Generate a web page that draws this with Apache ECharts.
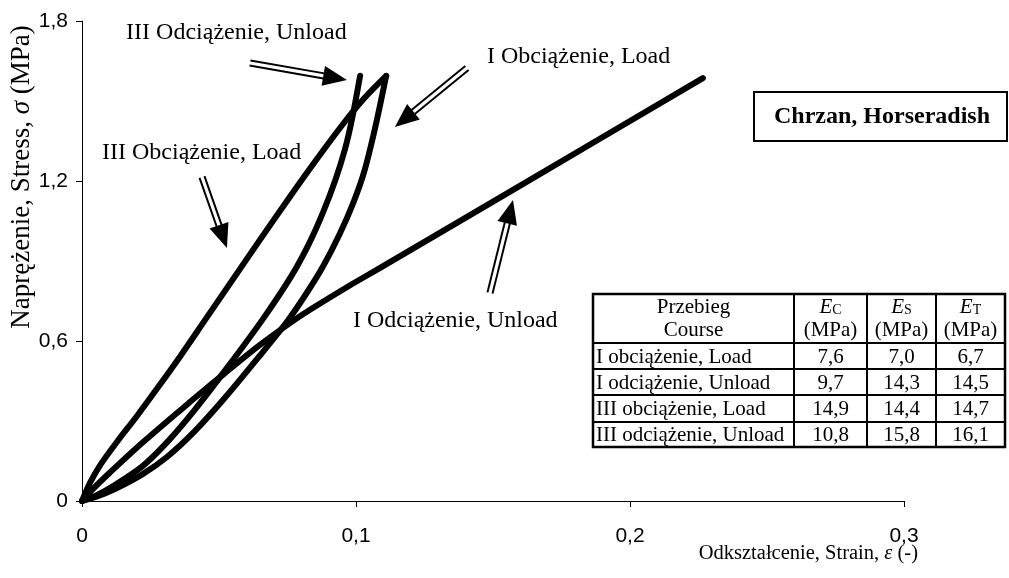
<!DOCTYPE html>
<html>
<head>
<meta charset="utf-8">
<title>Chrzan, Horseradish</title>
<script src="https://cdn.jsdelivr.net/npm/echarts@6/dist/echarts.min.js"></script>
<style>
    html, body { margin: 0; padding: 0; background: #fff; }
    #chart { width: 1009px; height: 578px; }
</style>
</head>
<body>
<div id="chart"></div>
<script>

// Data
// ------------------------------

// Axis ticks
var strainTicks = [0, 0.1, 0.2, 0.3];
var strainTickLabels = ['0', '0,1', '0,2', '0,3'];
var stressTicks = [0, 0.6, 1.2, 1.8];
var stressTickLabels = ['0', '0,6', '1,2', '1,8'];

// I obciążenie, Load (origin -> peak)
var load1Strain = [0, 0.005, 0.012, 0.022, 0.031, 0.041, 0.052, 0.0645, 0.075, 0.082, 0.088, 0.094, 0.099, 0.103, 0.107, 0.111];
var load1Stress = [0, 0.015, 0.045, 0.10, 0.165, 0.26, 0.385, 0.54, 0.675, 0.78, 0.88, 1.0, 1.118, 1.235, 1.40, 1.594];

// I odciążenie, Unload (long line)
var unload1Strain = [0, 0.004, 0.01, 0.02, 0.0387, 0.043, 0.0515, 0.064, 0.076, 0.0832, 0.098, 0.1088, 0.157, 0.2266];
var unload1Stress = [0, 0.045, 0.105, 0.20, 0.365, 0.402, 0.474, 0.578, 0.668, 0.717, 0.81, 0.874, 1.165, 1.586];

// III obciążenie, Load (origin -> peak)
var load3Strain = [0, 0.003, 0.007, 0.013, 0.020, 0.028, 0.036, 0.045, 0.055, 0.065, 0.075, 0.085, 0.095, 0.103, 0.111];
var load3Stress = [0, 0.07, 0.14, 0.225, 0.318, 0.43, 0.545, 0.68, 0.83, 0.98, 1.128, 1.272, 1.41, 1.51, 1.594];

// III odciążenie, Unload (peak -> origin)
var unload3Strain = [0.1015, 0.0985, 0.096, 0.0925, 0.088, 0.083, 0.0765, 0.066, 0.053, 0.041, 0.031, 0.022, 0.012, 0.005, 0];
var unload3Stress = [1.595, 1.43, 1.32, 1.205, 1.083, 0.968, 0.845, 0.682, 0.50, 0.34, 0.22, 0.13, 0.06, 0.02, 0];

// Arrow annotations (strain, stress)
var arrowLabels = ['III Odciążenie, Unload', 'III Obciążenie, Load', 'I Obciążenie, Load', 'I Odciążenie, Unload'];
var arrowTails = [[0.0613, 1.6425], [0.0438, 1.215], [0.1405, 1.624], [0.1489, 0.78]];
var arrowTips = [[0.0967, 1.5788], [0.0529, 0.949], [0.1142, 1.4025], [0.1573, 1.1288]];
var labelAnchors = [[0.0161, 1.755], [0.0073, 1.305], [0.1478, 1.665], [0.0989, 0.675]];

// Inset table
var tableCourses = ['I obciążenie, Load', 'I odciążenie, Unload', 'III obciążenie, Load', 'III odciążenie, Unload'];
var modulusC = ['7,6', '9,7', '14,9', '10,8'];
var modulusS = ['7,0', '14,3', '14,4', '15,8'];
var modulusT = ['6,7', '14,5', '14,7', '16,1'];


// Setup module
// ------------------------------

var HorseradishChart = function() {

    var SERIF = '"Liberation Serif", "Times New Roman", serif';
    var SANS = '"Liberation Sans", Arial, sans-serif';

    var zip = function(xs, ys) {
        return xs.map(function(x, i) { return [x, ys[i]]; });
    };

    var curve = function(name, xs, ys) {
        return {
            name: name,
            type: 'line',
            data: zip(xs, ys),
            smooth: 0.3,
            showSymbol: false,
            silent: true,
            lineStyle: { color: '#000', width: 6, cap: 'round', join: 'round' }
        };
    };

    // Table built as graphic elements
    var buildTable = function() {
        var cols = [593, 794, 867, 936, 1005];
        var rows = [294, 343, 369, 395, 422, 447];
        var els = [];
        var font = 21;

        els.push({ type: 'rect', shape: { x: cols[0], y: rows[0], width: cols[4] - cols[0], height: rows[5] - rows[0] },
            style: { fill: '#fff', stroke: '#000', lineWidth: 2.5 }, z: 10 });
        cols.slice(1, 4).forEach(function(x) {
            els.push({ type: 'line', shape: { x1: x, y1: rows[0], x2: x, y2: rows[5] }, style: { stroke: '#000', lineWidth: 2 }, z: 11 });
        });
        rows.slice(1, 5).forEach(function(y) {
            els.push({ type: 'line', shape: { x1: cols[0], y1: y, x2: cols[4], y2: y }, style: { stroke: '#000', lineWidth: 2 }, z: 11 });
        });

        // header
        els.push({ type: 'text', z: 12, style: { text: 'Przebieg', x: (cols[0] + cols[1]) / 2, y: 307, align: 'center', verticalAlign: 'middle', fontFamily: SERIF, fontSize: font, fill: '#000' } });
        els.push({ type: 'text', z: 12, style: { text: 'Course', x: (cols[0] + cols[1]) / 2, y: 330, align: 'center', verticalAlign: 'middle', fontFamily: SERIF, fontSize: font, fill: '#000' } });
        ['C', 'S', 'T'].forEach(function(sub, k) {
            var cx = (cols[k + 1] + cols[k + 2]) / 2;
            els.push({ type: 'text', z: 12, style: {
                text: '{e|E}{s|' + sub + '}', x: cx, y: 307, align: 'center', verticalAlign: 'middle', fill: '#000',
                rich: {
                    e: { fontFamily: SERIF, fontSize: font, fontStyle: 'italic', fill: '#000' },
                    s: { fontFamily: SERIF, fontSize: 14, fill: '#000', padding: [7, 0, 0, 0] }
                }
            } });
            els.push({ type: 'text', z: 12, style: { text: '(MPa)', x: cx, y: 330, align: 'center', verticalAlign: 'middle', fontFamily: SERIF, fontSize: font, fill: '#000' } });
        });

        // body
        tableCourses.forEach(function(name, i) {
            var cy = (rows[i + 1] + rows[i + 2]) / 2 + 1;
            els.push({ type: 'text', z: 12, style: { text: name, x: cols[0] + 3, y: cy, align: 'left', verticalAlign: 'middle', fontFamily: SERIF, fontSize: font, fill: '#000' } });
            [modulusC[i], modulusS[i], modulusT[i]].forEach(function(v, k) {
                els.push({ type: 'text', z: 12, style: { text: v, x: (cols[k + 1] + cols[k + 2]) / 2, y: cy, align: 'center', verticalAlign: 'middle', fontFamily: SERIF, fontSize: font, fill: '#000' } });
            });
        });
        return els;
    };

    var _chart = function() {
        if (typeof echarts == 'undefined') {
            console.warn('Warning - echarts.min.js is not loaded.');
            return;
        }

        var element = document.getElementById('chart');
        if (!element) return;

        var chart = echarts.init(element, null, { renderer: 'canvas' });

        var tickFormatter = function(ticks, labels) {
            return function(value) {
                for (var i = 0; i < ticks.length; i++) {
                    if (Math.abs(ticks[i] - value) < 1e-9) return labels[i];
                }
                return '';
            };
        };

        var arrowData = arrowLabels.map(function(label, i) {
            return [arrowTails[i][0], arrowTails[i][1], arrowTips[i][0], arrowTips[i][1], labelAnchors[i][0], labelAnchors[i][1], label];
        });

        chart.setOption({
            animation: false,
            backgroundColor: '#fff',

            grid: { left: 82, top: 21, right: 105, bottom: 77, containLabel: false },

            xAxis: {
                type: 'value',
                min: 0, max: 0.3, interval: 0.1,
                axisLine: { lineStyle: { color: '#000', width: 1 } },
                axisTick: { show: true, length: 6, lineStyle: { color: '#000' } },
                splitLine: { show: false },
                axisLabel: { color: '#000', fontFamily: SANS, fontSize: 21, margin: 25, formatter: tickFormatter(strainTicks, strainTickLabels) }
            },

            yAxis: {
                type: 'value',
                min: 0, max: 1.8, interval: 0.6,
                axisLine: { show: true, lineStyle: { color: '#000', width: 1 } },
                axisTick: { show: true, length: 6, lineStyle: { color: '#000' } },
                splitLine: { show: false },
                axisLabel: { color: '#000', fontFamily: SANS, fontSize: 21, margin: 14, formatter: tickFormatter(stressTicks, stressTickLabels) }
            },

            graphic: [
                // axis titles
                { type: 'text', x: 22, y: 177, rotation: Math.PI / 2, style: {
                    text: 'Naprężenie, Stress, {i|σ} (MPa)', align: 'center', verticalAlign: 'middle', fill: '#000',
                    fontFamily: SERIF, fontSize: 27,
                    rich: { i: { fontFamily: SERIF, fontSize: 27, fontStyle: 'italic', fill: '#000' } }
                } },
                { type: 'text', x: 918, y: 554, style: {
                    text: 'Odkształcenie, Strain, {i|ε} (-)', align: 'right', verticalAlign: 'middle', fill: '#000',
                    fontFamily: SERIF, fontSize: 20.5,
                    rich: { i: { fontFamily: SERIF, fontSize: 20.5, fontStyle: 'italic', fill: '#000' } }
                } },
                // title box
                { type: 'rect', z: 10, shape: { x: 754, y: 92, width: 253, height: 49 }, style: { fill: '#fff', stroke: '#000', lineWidth: 2 } },
                { type: 'text', z: 11, x: 882, y: 117, style: { text: 'Chrzan, Horseradish', align: 'center', verticalAlign: 'middle', fontFamily: SERIF, fontSize: 24, fontWeight: 'bold', fill: '#000' } }
            ].concat(buildTable()),

            series: [
                curve('I obciążenie, Load', load1Strain, load1Stress),
                curve('I odciążenie, Unload', unload1Strain, unload1Stress),
                curve('III obciążenie, Load', load3Strain, load3Stress),
                curve('III odciążenie, Unload', unload3Strain, unload3Stress),

                // Arrows with labels
                {
                    type: 'custom',
                    silent: true,
                    clip: false,
                    data: arrowData,
                    encode: { x: [0, 2, 4], y: [1, 3, 5] },
                    renderItem: function(params, api) {
                        var tail = api.coord([api.value(0), api.value(1)]);
                        var tip = api.coord([api.value(2), api.value(3)]);
                        var at = api.coord([api.value(4), api.value(5)]);
                        var dx = tip[0] - tail[0], dy = tip[1] - tail[1];
                        var len = Math.sqrt(dx * dx + dy * dy);
                        var ux = dx / len, uy = dy / len;
                        var nx = -uy, ny = ux;
                        var headLen = 24, headHalf = 10, gap = 2.6;
                        var bx = tip[0] - ux * headLen, by = tip[1] - uy * headLen;
                        return {
                            type: 'group',
                            children: [
                                { type: 'line', shape: { x1: tail[0] + nx * gap, y1: tail[1] + ny * gap, x2: bx + nx * gap + ux * 2, y2: by + ny * gap + uy * 2 }, style: { stroke: '#000', lineWidth: 2 } },
                                { type: 'line', shape: { x1: tail[0] - nx * gap, y1: tail[1] - ny * gap, x2: bx - nx * gap + ux * 2, y2: by - ny * gap + uy * 2 }, style: { stroke: '#000', lineWidth: 2 } },
                                { type: 'polygon', shape: { points: [[tip[0], tip[1]], [bx + nx * headHalf, by + ny * headHalf], [bx - nx * headHalf, by - ny * headHalf]] }, style: { fill: '#000' } },
                                { type: 'text', style: { text: api.value(6), x: at[0], y: at[1], align: 'left', verticalAlign: 'middle', fontFamily: SERIF, fontSize: 24, fill: '#000' } }
                            ]
                        };
                    }
                }
            ]
        });
    };

    return {
        init: function() {
            _chart();
        }
    };
}();


// Initialize module
// ------------------------------

document.addEventListener('DOMContentLoaded', function() {
    HorseradishChart.init();
});
</script>
</body>
</html>
